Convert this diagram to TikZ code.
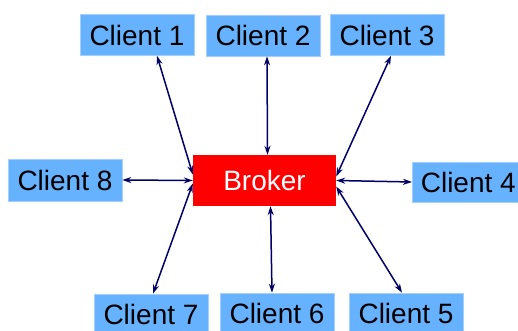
\documentclass[tikz,border=0pt]{standalone}
\usepackage{fontspec}
\setmainfont{Liberation Sans}
\usetikzlibrary{arrows.meta}
\definecolor{clientblue}{RGB}{102,178,255}
\definecolor{brokerred}{RGB}{255,0,0}
\definecolor{linkblue}{RGB}{0,0,102}
\begin{document}
\begin{tikzpicture}[x=1pt,y=1pt,
  client/.style={fill=clientblue, draw=clientblue!60!white, line width=0.6pt, minimum width=114pt, minimum height=41pt, inner sep=0pt, font=\fontsize{28}{30}\selectfont},
  broker/.style={fill=brokerred, minimum width=143pt, minimum height=51pt, inner sep=0pt, text=white, font=\fontsize{28}{30}\selectfont},
  link/.style={draw=linkblue, line width=1.5pt, {Stealth[length=9pt,width=6pt]}-{Stealth[length=9pt,width=6pt]}}]
\useasboundingbox (0,0) rectangle (518,331);
\clip (0,0) rectangle (518,331);
\node[client] (c1) at (137,296) {Client 1};
\node[client] (c2) at (263,295.5) {Client 2};
\node[client] (c3) at (387,296) {Client 3};
\node[client, minimum height=42pt] (c8) at (65,151) {Client 8};
\node[broker] (br) at (264.5,150.5) {Broker};
\node[client, minimum width=112pt, minimum height=40pt, anchor=west] (c4) at (412,149) {Client 4};
\node[client] (c7) at (151,16.5) {Client 7};
\node[client] (c6) at (277,17.5) {Client 6};
\node[client] (c5) at (406,17.5) {Client 5};
\draw[link] ([xshift=20pt]c1.south) -- ([yshift=6pt]br.west);
\draw[link] ([xshift=4pt]c2.south) -- ([xshift=3pt]br.north);
\draw[link] ([xshift=4pt]c3.south) -- ([yshift=4pt]br.east);
\draw[link] (br.east) -- (c4.west);
\draw[link] ([yshift=-6pt]br.east) -- ([xshift=-4pt]c5.north);
\draw[link] ([xshift=6pt]br.south) -- ([xshift=-5pt]c6.north);
\draw[link] ([yshift=-3pt]br.west) -- ([xshift=2pt]c7.north);
\draw[link] (c8.east) -- (br.west);
\end{tikzpicture}
\end{document}
